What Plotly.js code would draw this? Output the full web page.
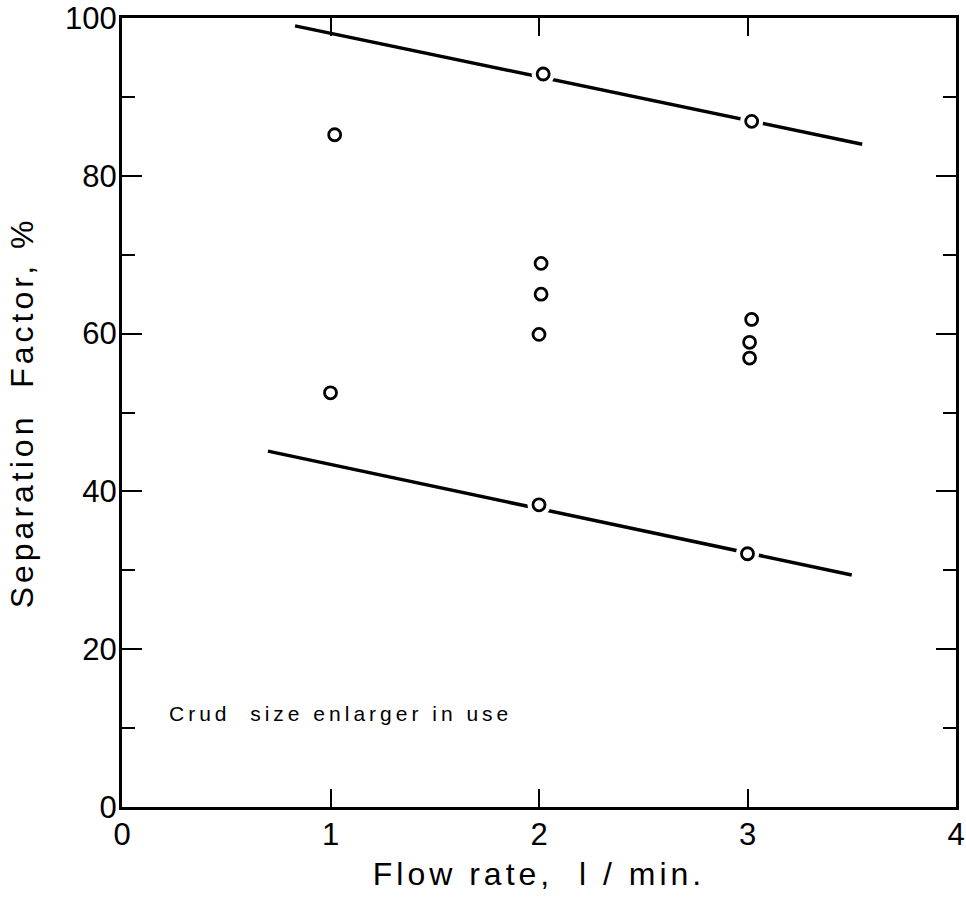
<!DOCTYPE html>
<html>
<head>
<meta charset="utf-8">
<script src="https://cdn.plot.ly/plotly-3.0.1.min.js"></script>
<style>
  html, body { margin: 0; padding: 0; background: #fff; }
  #chart { width: 966px; height: 905px; }
  .xtitle, .ytitle { letter-spacing: 4px; }
  .annotation-text { letter-spacing: 4px; }
</style>
</head>
<body>
<div id="chart"></div>
<script>
// Data
const flowRate   = [1.02, 1.00, 2.02, 2.01, 2.01, 2.00, 2.00, 3.02, 3.02, 3.01, 3.01, 3.00];
const separation = [85.2, 52.5, 92.9, 68.9, 65.0, 59.9, 38.3, 86.9, 61.8, 58.9, 56.9, 32.1];

const upperLineX = [0.83, 3.55];
const upperLineY = [99.0, 84.0];
const lowerLineX = [0.70, 3.50];
const lowerLineY = [45.1, 29.4];

const xTickVals = [0, 1, 2, 3, 4];
const xTickText = ['0', '1', '2', '3', '4'];
const yTickVals = [0, 20, 40, 60, 80, 100];
const yTickText = ['0', '20', '40', '60', '80', '100'];

const noteText = 'Crud&nbsp; size enlarger in use';
const xTitle = 'Flow rate,&nbsp; l / min.';
const yTitle = 'Separation&nbsp; Factor, %';

const FONT = '"Liberation Sans", Arial, sans-serif';

const traces = [
  { x: upperLineX, y: upperLineY, mode: 'lines', line: { color: '#000', width: 3.5 }, hoverinfo: 'skip', showlegend: false },
  { x: lowerLineX, y: lowerLineY, mode: 'lines', line: { color: '#000', width: 3.5 }, hoverinfo: 'skip', showlegend: false },
  // white halo so the lines break around the circles
  { x: flowRate, y: separation, mode: 'markers',
    marker: { symbol: 'circle', size: 23, color: '#fff', line: { width: 0 } },
    hoverinfo: 'skip', showlegend: false },
  { x: flowRate, y: separation, mode: 'markers',
    marker: { symbol: 'circle-open', size: 12, color: '#000', line: { color: '#000', width: 2.8 } },
    showlegend: false }
];

const layout = {
  width: 966, height: 905,
  margin: { l: 122, r: 10, t: 18, b: 98 },
  paper_bgcolor: '#fff', plot_bgcolor: '#fff',
  showlegend: false,
  font: { family: FONT, color: '#000' },
  xaxis: {
    range: [0, 4], tickmode: 'array', tickvals: xTickVals, ticktext: xTickText,
    ticks: 'inside', ticklen: 18, tickwidth: 2, tickcolor: '#000',
    showline: true, linewidth: 3, linecolor: '#000', mirror: 'ticks',
    showgrid: false, zeroline: false,
    tickfont: { family: FONT, size: 31, color: '#000' },
    ticklabelstandoff: -2,
    title: { text: xTitle, font: { family: FONT, size: 32, color: '#000' }, standoff: 12 }
  },
  yaxis: {
    range: [0, 100], tickmode: 'array', tickvals: yTickVals, ticktext: yTickText,
    ticks: 'inside', ticklen: 20, tickwidth: 2, tickcolor: '#000',
    minor: { tickvals: [10, 30, 50, 70, 90], ticks: 'inside', ticklen: 13, tickwidth: 2, tickcolor: '#000', showgrid: false },
    showline: true, linewidth: 3, linecolor: '#000', mirror: 'ticks',
    showgrid: false, zeroline: false,
    tickfont: { family: FONT, size: 31, color: '#000' },
    ticklabelstandoff: -4,
    title: { text: yTitle, font: { family: FONT, size: 32, color: '#000' }, standoff: 22 }
  },
  annotations: [
    { x: 0.216, y: 11.8, xref: 'x', yref: 'y', text: noteText, showarrow: false,
      xanchor: 'left', yanchor: 'middle', font: { family: FONT, size: 21, color: '#000' } }
  ]
};

Plotly.newPlot('chart', traces, layout, { staticPlot: true, displayModeBar: false });
</script>
</body>
</html>
